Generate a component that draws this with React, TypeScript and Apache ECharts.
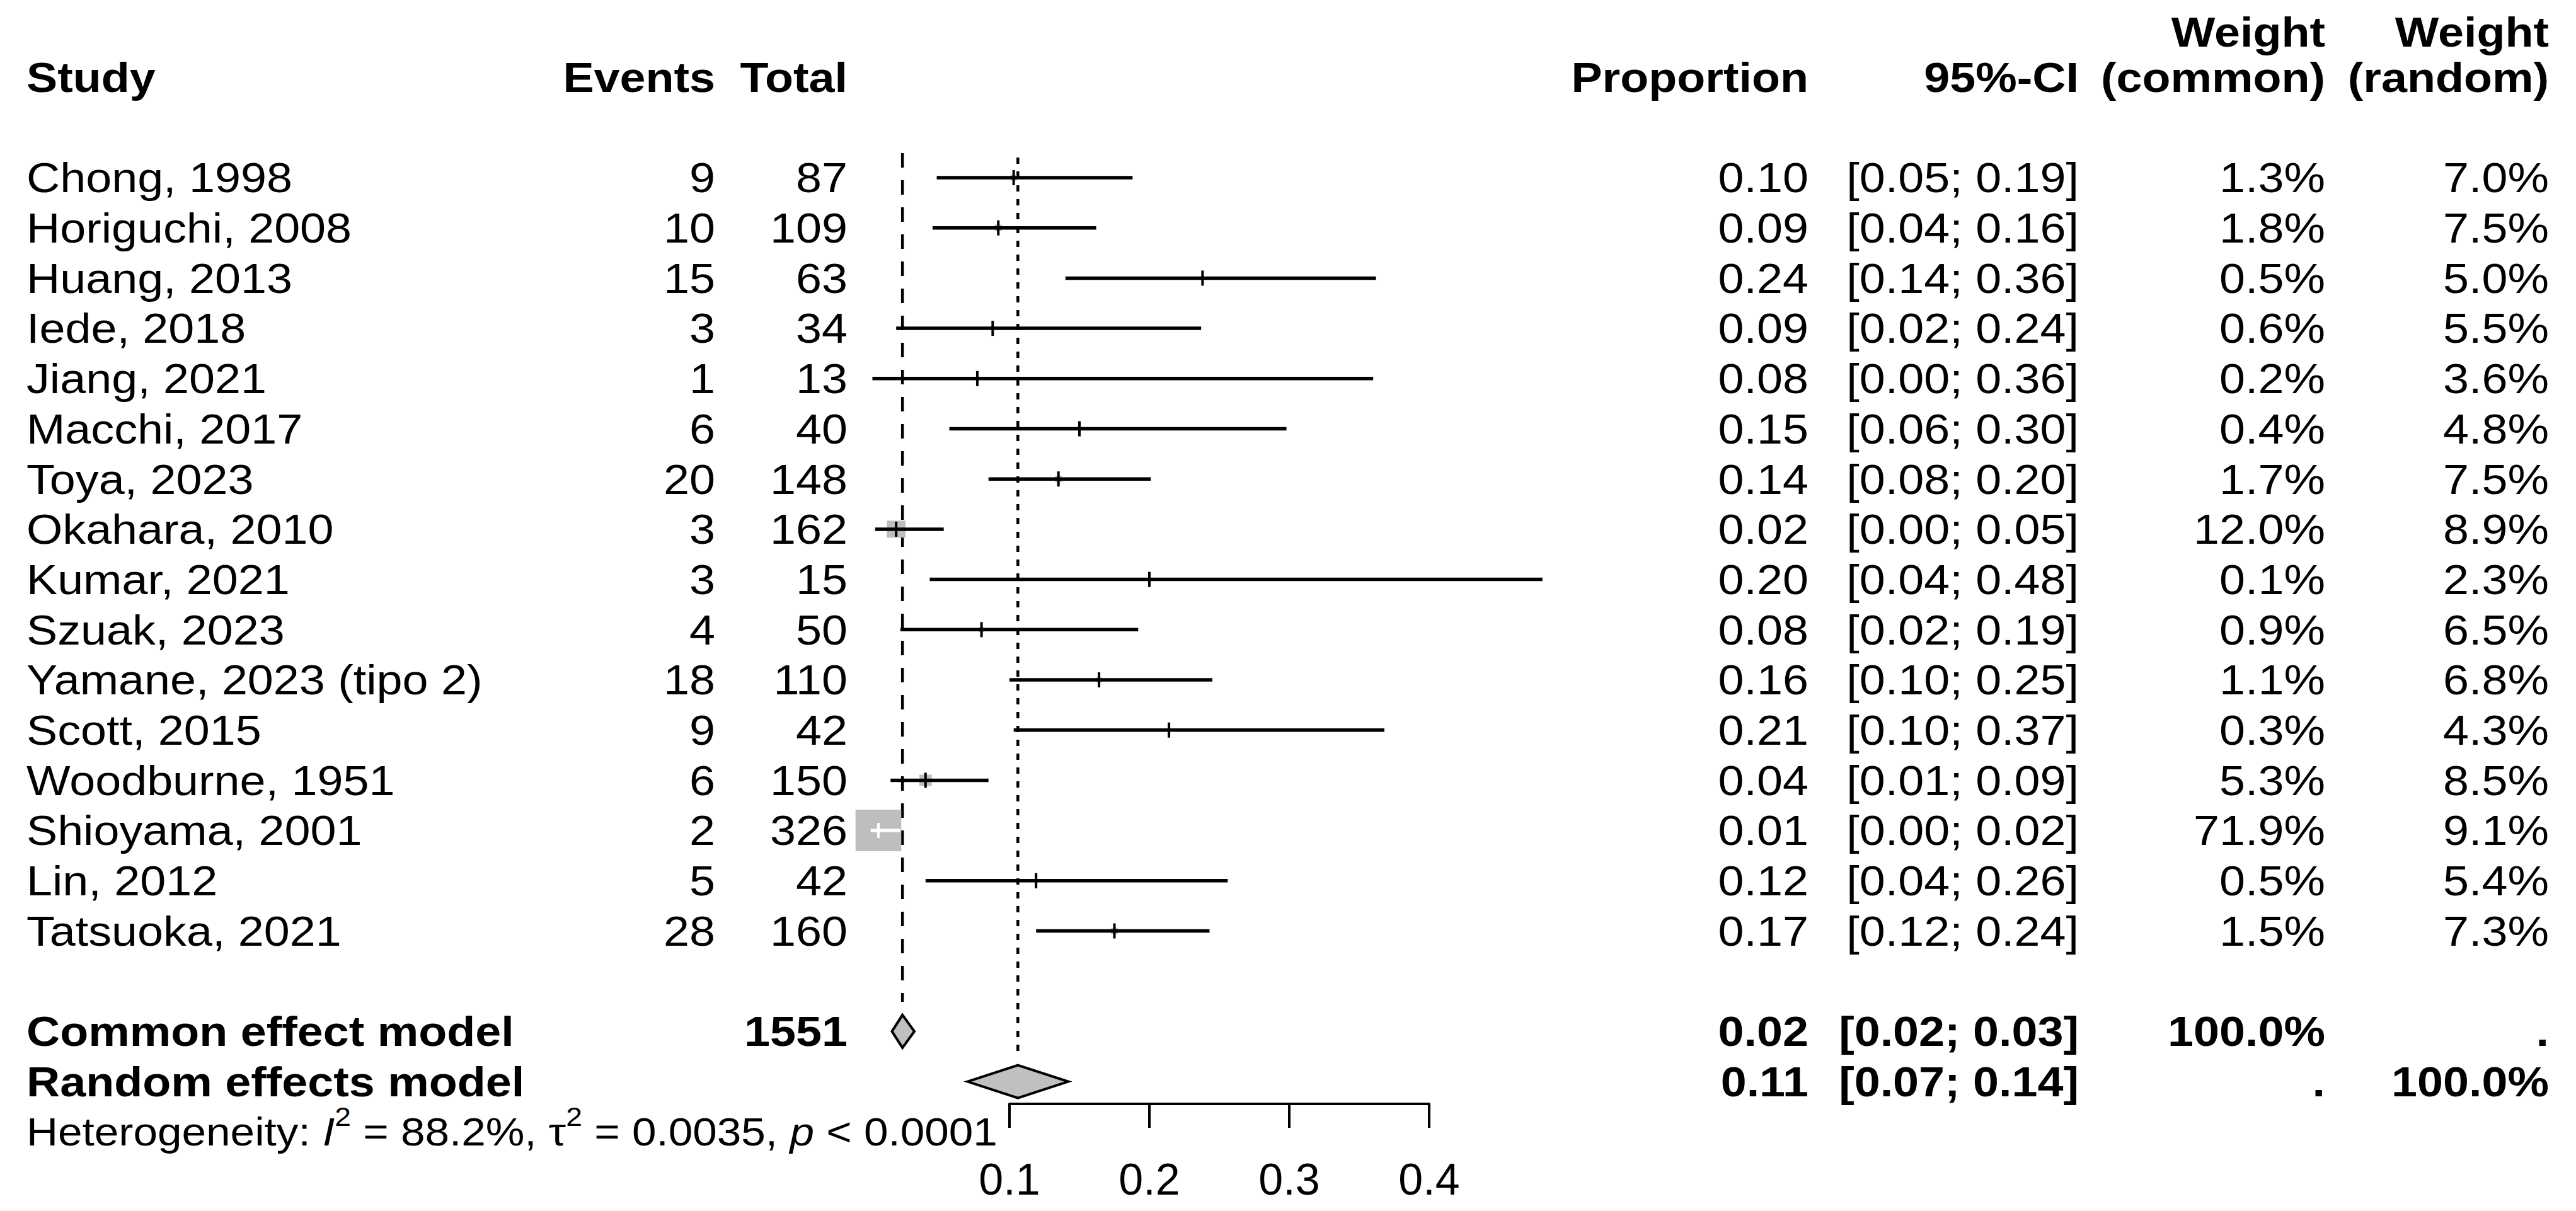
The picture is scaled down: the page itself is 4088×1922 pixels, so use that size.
import React, { useEffect, useRef } from "react";
import * as echarts from "echarts";

// ---------- data ----------
const studies = [
  "Chong, 1998",
  "Horiguchi, 2008",
  "Huang, 2013",
  "Iede, 2018",
  "Jiang, 2021",
  "Macchi, 2017",
  "Toya, 2023",
  "Okahara, 2010",
  "Kumar, 2021",
  "Szuak, 2023",
  "Yamane, 2023 (tipo 2)",
  "Scott, 2015",
  "Woodburne, 1951",
  "Shioyama, 2001",
  "Lin, 2012",
  "Tatsuoka, 2021",
];
const events = [9, 10, 15, 3, 1, 6, 20, 3, 3, 4, 18, 9, 6, 2, 5, 28];
const totals = [87, 109, 63, 34, 13, 40, 148, 162, 15, 50, 110, 42, 150, 326, 42, 160];
const proportion = [0.103, 0.092, 0.238, 0.088, 0.077, 0.15, 0.135, 0.019, 0.2, 0.08, 0.164, 0.214, 0.04, 0.0063, 0.119, 0.175];
const ciLower = [0.048, 0.045, 0.14, 0.019, 0.002, 0.057, 0.085, 0.004, 0.043, 0.022, 0.1, 0.103, 0.015, 0.0008, 0.04, 0.119];
const ciUpper = [0.188, 0.162, 0.362, 0.237, 0.36, 0.298, 0.201, 0.053, 0.481, 0.192, 0.245, 0.368, 0.085, 0.022, 0.256, 0.243];
const propLabels = ["0.10", "0.09", "0.24", "0.09", "0.08", "0.15", "0.14", "0.02", "0.20", "0.08", "0.16", "0.21", "0.04", "0.01", "0.12", "0.17"];
const ciLabels = [
  "[0.05; 0.19]", "[0.04; 0.16]", "[0.14; 0.36]", "[0.02; 0.24]",
  "[0.00; 0.36]", "[0.06; 0.30]", "[0.08; 0.20]", "[0.00; 0.05]",
  "[0.04; 0.48]", "[0.02; 0.19]", "[0.10; 0.25]", "[0.10; 0.37]",
  "[0.01; 0.09]", "[0.00; 0.02]", "[0.04; 0.26]", "[0.12; 0.24]",
];
const weightCommon = [1.3, 1.8, 0.5, 0.6, 0.2, 0.4, 1.7, 12.0, 0.1, 0.9, 1.1, 0.3, 5.3, 71.9, 0.5, 1.5];
const weightRandom = [7.0, 7.5, 5.0, 5.5, 3.6, 4.8, 7.5, 8.9, 2.3, 6.5, 6.8, 4.3, 8.5, 9.1, 5.4, 7.3];

const summaryNames = ["Common effect model", "Random effects model"];
const summaryEst = [0.0235, 0.106];
const summaryLower = [0.016, 0.07];
const summaryUpper = [0.032, 0.142];
const summaryTotal = ["1551", ""];
const summaryPropLabels = ["0.02", "0.11"];
const summaryCiLabels = ["[0.02; 0.03]", "[0.07; 0.14]"];
const summaryWCommon = ["100.0%", "."];
const summaryWRandom = [".", "100.0%"];

// reference lines: x value, first row, last row
const refLineX = [0.0235, 0.106];
const refLineTop = [1.51, 1.6];
const refLineBottom = [18.41, 19.42];

const xTicks = [0.1, 0.2, 0.3, 0.4];

// ---------- layout ----------
const W = 4088;
const H = 1922;
const ROW0 = 122.6;
const ROWH = 79.7;
const AXIS_Y = 1752;
const X_LEFT = 1602;
const X_RIGHT = 2268;
const FIRST_ROW = 2;
const SUMMARY_ROW = 19;
const HET_ROW = 21;
const COL_STUDY = 42;
const COL_EVENTS = 1135;
const COL_TOTAL = 1345;
const COL_PROP = 2870;
const COL_CI = 3299;
const COL_WC = 3690;
const COL_WR = 4045;
const FONT = '"Liberation Sans", Arial, Helvetica, sans-serif';
const FS = 67;
const STRETCH = 1.1;
const SQUARE_MAX = 66;

const rowY = (r: number) => ROW0 + ROWH * r;

function cell(x: number, r: number, text: string, align: string, bold = false, size = FS) {
  return {
    type: "text",
    x,
    y: rowY(r),
    scaleX: STRETCH,
    silent: true,
    style: {
      text,
      x: 0,
      y: 0,
      align,
      verticalAlign: "middle",
      fontFamily: FONT,
      fontSize: size,
      fontWeight: bold ? "bold" : "normal",
      fill: "#000",
    },
  };
}

export default function App() {
  const ref = useRef<HTMLDivElement>(null);

  useEffect(() => {
    if (!ref.current) return;
    const chart = echarts.init(ref.current, null, { renderer: "svg" });
    const maxW = Math.max(...weightCommon);

    const graphics: any[] = [];
    // header
    graphics.push(cell(COL_STUDY, 0, "Study", "left", true));
    graphics.push(cell(COL_EVENTS, 0, "Events", "right", true));
    graphics.push(cell(COL_TOTAL, 0, "Total", "right", true));
    graphics.push(cell(COL_PROP, 0, "Proportion", "right", true));
    graphics.push(cell(COL_CI, 0, "95%-CI", "right", true));
    graphics.push(cell(COL_WC, -0.9, "Weight", "right", true));
    graphics.push(cell(COL_WC, 0, "(common)", "right", true));
    graphics.push(cell(COL_WR, -0.9, "Weight", "right", true));
    graphics.push(cell(COL_WR, 0, "(random)", "right", true));
    // studies
    studies.forEach((s, i) => {
      const r = FIRST_ROW + i;
      graphics.push(cell(COL_STUDY, r, s, "left"));
      graphics.push(cell(COL_EVENTS, r, String(events[i]), "right"));
      graphics.push(cell(COL_TOTAL, r, String(totals[i]), "right"));
      graphics.push(cell(COL_PROP, r, propLabels[i], "right"));
      graphics.push(cell(COL_CI, r, ciLabels[i], "right"));
      graphics.push(cell(COL_WC, r, weightCommon[i].toFixed(1) + "%", "right"));
      graphics.push(cell(COL_WR, r, weightRandom[i].toFixed(1) + "%", "right"));
    });
    // summaries
    summaryNames.forEach((s, k) => {
      const r = SUMMARY_ROW + k;
      graphics.push(cell(COL_STUDY, r, s, "left", true));
      if (summaryTotal[k]) graphics.push(cell(COL_TOTAL, r, summaryTotal[k], "right", true));
      graphics.push(cell(COL_PROP, r, summaryPropLabels[k], "right", true));
      graphics.push(cell(COL_CI, r, summaryCiLabels[k], "right", true));
      graphics.push(cell(COL_WC, r, summaryWCommon[k], "right", true));
      graphics.push(cell(COL_WR, r, summaryWRandom[k], "right", true));
    });
    // heterogeneity
    const hetFs = 63;
    graphics.push({
      type: "text",
      x: COL_STUDY,
      y: rowY(HET_ROW),
      scaleX: STRETCH,
      silent: true,
      style: {
        text: "{n|Heterogeneity: }{i|I}{s|2}{n| = 88.2%, τ}{s|2}{n| = 0.0035, }{i|p}{n| < 0.0001}",
        x: 0,
        y: 0,
        align: "left",
        verticalAlign: "middle",
        fontFamily: FONT,
        fontSize: hetFs,
        fill: "#000",
        rich: {
          n: { fontFamily: FONT, fontSize: hetFs, lineHeight: 90, fill: "#000" },
          i: { fontFamily: FONT, fontSize: hetFs, fontStyle: "italic", lineHeight: 90, fill: "#000" },
          s: { fontFamily: FONT, fontSize: 42, lineHeight: 42, verticalAlign: "top", fill: "#000" },
        },
      },
    });

    const studyData = studies.map((_, i) => [proportion[i], ciLower[i], ciUpper[i], FIRST_ROW + i, weightCommon[i]]);
    const summaryData = summaryNames.map((_, k) => [summaryEst[k], summaryLower[k], summaryUpper[k], SUMMARY_ROW + k]);
    const refData = refLineX.map((x, k) => [x, refLineTop[k], refLineBottom[k], k]);

    chart.setOption({
      animation: false,
      backgroundColor: "#fff",
      grid: { left: X_LEFT, top: ROW0, width: X_RIGHT - X_LEFT, height: AXIS_Y - ROW0 },
      xAxis: {
        type: "value",
        position: "bottom",
        min: xTicks[0],
        max: xTicks[xTicks.length - 1],
        interval: 0.1,
        axisLine: { show: true, onZero: false, lineStyle: { color: "#000", width: 4 } },
        axisTick: { show: true, length: 38, lineStyle: { color: "#000", width: 4 } },
        axisLabel: {
          color: "#000",
          fontSize: 70,
          fontFamily: FONT,
          margin: 85,
          formatter: (v: number) => v.toFixed(1),
        },
        splitLine: { show: false },
      },
      yAxis: {
        type: "value",
        min: 0,
        max: (AXIS_Y - ROW0) / ROWH,
        inverse: true,
        show: false,
      },
      graphic: graphics,
      series: [
        {
          type: "custom",
          name: "reference lines",
          clip: false,
          silent: true,
          z: 1,
          data: refData,
          renderItem: (params: any, api: any) => {
            const x = api.value(0);
            const t = api.value(1);
            const b = api.value(2);
            const k = api.value(3);
            const [px, py1] = api.coord([x, t]);
            const [, py2] = api.coord([x, b]);
            return {
              type: "line",
              shape: { x1: px, y1: py1, x2: px, y2: py2 },
              style: { stroke: "#000", lineWidth: 4.5, lineDash: k === 0 ? [23, 20] : [10, 12] },
            };
          },
        },
        {
          type: "custom",
          name: "studies",
          clip: false,
          silent: true,
          z: 3,
          data: studyData,
          renderItem: (params: any, api: any) => {
            const est = api.value(0);
            const lo = api.value(1);
            const hi = api.value(2);
            const row = api.value(3);
            const w = api.value(4);
            const [xe, yc] = api.coord([est, row]);
            const [xl] = api.coord([lo, row]);
            const [xh] = api.coord([hi, row]);
            const sh = SQUARE_MAX * Math.sqrt(w / maxW);
            const sw = sh * STRETCH;
            const inside = xl >= xe - sw / 2 && xh <= xe + sw / 2;
            const lc = inside ? "#fff" : "#000";
            return {
              type: "group",
              children: [
                { type: "rect", shape: { x: xe - sw / 2, y: yc - sh / 2, width: sw, height: sh }, style: { fill: "#bebebe" } },
                { type: "line", shape: { x1: xl, y1: yc, x2: xh, y2: yc }, style: { stroke: lc, lineWidth: 5.5 } },
                { type: "line", shape: { x1: xe, y1: yc - 12, x2: xe, y2: yc + 12 }, style: { stroke: lc, lineWidth: 4 } },
              ],
            };
          },
        },
        {
          type: "custom",
          name: "summaries",
          clip: false,
          silent: true,
          z: 3,
          data: summaryData,
          renderItem: (params: any, api: any) => {
            const est = api.value(0);
            const lo = api.value(1);
            const hi = api.value(2);
            const row = api.value(3);
            const [xe, yc] = api.coord([est, row]);
            const [xl] = api.coord([lo, row]);
            const [xh] = api.coord([hi, row]);
            const h = 52;
            return {
              type: "polygon",
              shape: { points: [[xl, yc], [xe, yc - h / 2], [xh, yc], [xe, yc + h / 2]] },
              style: { fill: "#c0c0c0", stroke: "#000", lineWidth: 4 },
            };
          },
        },
      ],
    });
    return () => chart.dispose();
  }, []);

  return (
    <div
      ref={ref}
      style={{ position: "absolute", left: 0, top: 0, width: W, height: H, background: "#fff" }}
    />
  );
}
